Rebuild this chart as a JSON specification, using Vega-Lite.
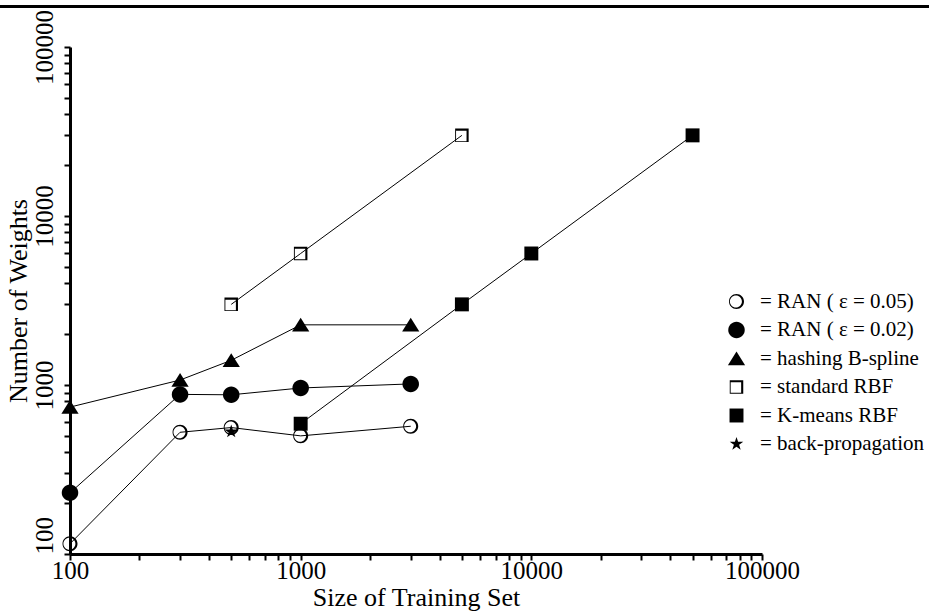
{
  "$schema": "https://vega.github.io/schema/vega-lite/v6.json",
  "width": 692,
  "height": 507,
  "autosize": "none",
  "padding": {"left": 70, "top": 47, "right": 167, "bottom": 59},
  "background": "white",
  "config": {
    "view": {"stroke": null},
    "font": "Liberation Serif",
    "axis": {
      "labelFont": "Liberation Serif",
      "titleFont": "Liberation Serif",
      "labelColor": "black",
      "titleColor": "black",
      "titleFontWeight": "normal",
      "domainColor": "black",
      "domainWidth": 3,
      "tickColor": "black",
      "tickWidth": 2,
      "tickSize": 6,
      "labelFlush": false,
      "grid": false
    }
  },
  "data": {
    "values": [
      {"method": "RAN ( ε = 0.05)", "size": 100, "weights": 115},
      {"method": "RAN ( ε = 0.05)", "size": 300, "weights": 525},
      {"method": "RAN ( ε = 0.05)", "size": 500, "weights": 560},
      {"method": "RAN ( ε = 0.05)", "size": 1000, "weights": 500},
      {"method": "RAN ( ε = 0.05)", "size": 3000, "weights": 570},
      {"method": "RAN ( ε = 0.02)", "size": 100, "weights": 230},
      {"method": "RAN ( ε = 0.02)", "size": 300, "weights": 880},
      {"method": "RAN ( ε = 0.02)", "size": 500, "weights": 875},
      {"method": "RAN ( ε = 0.02)", "size": 1000, "weights": 960},
      {"method": "RAN ( ε = 0.02)", "size": 3000, "weights": 1015},
      {"method": "hashing B-spline", "size": 100, "weights": 740},
      {"method": "hashing B-spline", "size": 300, "weights": 1070},
      {"method": "hashing B-spline", "size": 500, "weights": 1400},
      {"method": "hashing B-spline", "size": 1000, "weights": 2270},
      {"method": "hashing B-spline", "size": 3000, "weights": 2270},
      {"method": "standard RBF", "size": 500, "weights": 3000},
      {"method": "standard RBF", "size": 1000, "weights": 6000},
      {"method": "standard RBF", "size": 5000, "weights": 30000},
      {"method": "K-means RBF", "size": 1000, "weights": 590},
      {"method": "K-means RBF", "size": 5000, "weights": 3000},
      {"method": "K-means RBF", "size": 10000, "weights": 6000},
      {"method": "K-means RBF", "size": 50000, "weights": 30000},
      {"method": "back-propagation", "size": 500, "weights": 530}
    ]
  },
  "encoding": {
    "x": {
      "field": "size",
      "type": "quantitative",
      "scale": {"type": "log", "domain": [100, 100000], "nice": false},
      "axis": {
        "title": "Size of Training Set",
        "titleFontSize": 26,
        "titlePadding": 1,
        "labelFontSize": 25,
        "labelPadding": -2,
        "format": "d",
        "values": [100, 200, 300, 400, 500, 600, 700, 800, 900, 1000, 2000, 3000, 4000, 5000, 6000, 7000, 8000, 9000, 10000, 20000, 30000, 40000, 50000, 60000, 70000, 80000, 90000, 100000],
        "labelExpr": "indexof([100, 1000, 10000, 100000], datum.value) >= 0 ? datum.label : ''",
        "encode": {"ticks": {"update": {
          "y": [{"test": "indexof([100, 1000, 10000, 100000], datum.value) >= 0", "value": -6}, {"value": -3}],
          "y2": [{"test": "indexof([100, 1000, 10000, 100000], datum.value) >= 0", "value": 6}, {"value": 3}]
        }}}
      }
    },
    "y": {
      "field": "weights",
      "type": "quantitative",
      "scale": {"type": "log", "domain": [100, 100000], "nice": false},
      "axis": {
        "title": "Number of Weights",
        "titleFontSize": 26,
        "titlePadding": 1,
        "labelFontSize": 25,
        "labelAngle": -90,
        "labelPadding": 7,
        "labelAlign": {"condition": {"test": "datum.value == 100", "value": "left"}, "value": "center"},
        "format": "d",
        "values": [100, 200, 300, 400, 500, 600, 700, 800, 900, 1000, 2000, 3000, 4000, 5000, 6000, 7000, 8000, 9000, 10000, 20000, 30000, 40000, 50000, 60000, 70000, 80000, 90000, 100000],
        "labelExpr": "indexof([100, 1000, 10000, 100000], datum.value) >= 0 ? datum.label : ''",
        "encode": {"ticks": {"update": {
          "x": [{"test": "indexof([100, 1000, 10000, 100000], datum.value) >= 0", "value": 6}, {"value": 3}],
          "x2": [{"test": "indexof([100, 1000, 10000, 100000], datum.value) >= 0", "value": -6}, {"value": -3}]
        }}}
      }
    }
  },
  "layer": [
    {
      "mark": {"type": "rule", "color": "black", "strokeWidth": 3, "clip": false},
      "encoding": {
        "x": {"datum": 40},
        "x2": {"datum": 700000},
        "y": {"datum": 173600}
      }
    },
    {
      "mark": {"type": "line", "color": "black", "strokeWidth": 1},
      "encoding": {
        "detail": {"field": "method", "type": "nominal"},
        "order": {"field": "size", "type": "quantitative"}
      }
    },
    {
      "mark": {"type": "point", "filled": true, "color": "black", "size": 225, "strokeWidth": 0, "opacity": 1},
      "encoding": {
        "shape": {
          "field": "method",
          "type": "nominal",
          "scale": {
            "domain": ["RAN ( ε = 0.05)", "RAN ( ε = 0.02)", "hashing B-spline", "standard RBF", "K-means RBF", "back-propagation"],
            "range": [
              "M1,0A1,1,0,1,1,-1,0A1,1,0,1,1,1,0ZM0.72,0A0.8,0.8,0,1,0,-0.88,0A0.8,0.8,0,1,0,0.72,0Z",
              "M1.1,0A1.1,1.1,0,1,1,-1.1,0A1.1,1.1,0,1,1,1.1,0Z",
              "M0,-0.95L1.15,0.9L-1.15,0.9Z",
              "M-0.9,-0.9H0.9V0.9H-0.9ZM-0.78,-0.62V0.78H0.62V-0.62Z",
              "M-0.93,-0.93H0.93V0.93H-0.93Z",
              "M0,-0.95L0.213,-0.294L0.903,-0.294L0.345,0.112L0.558,0.769L0,0.363L-0.558,0.769L-0.345,0.112L-0.903,-0.294L-0.213,-0.294Z"
            ]
          },
          "legend": {
            "title": null,
            "orient": "none",
            "legendX": 656,
            "legendY": 244,
            "padding": 0,
            "symbolSize": 225,
            "symbolFillColor": "black",
            "symbolStrokeWidth": 0,
            "symbolOpacity": 1,
            "labelFont": "Liberation Serif",
            "labelFontSize": 21,
            "labelColor": "black",
            "labelLimit": 300,
            "labelOffset": 13,
            "rowPadding": 6.5,
            "labelExpr": "'= ' + datum.label"
          }
        }
      }
    }
  ]
}
